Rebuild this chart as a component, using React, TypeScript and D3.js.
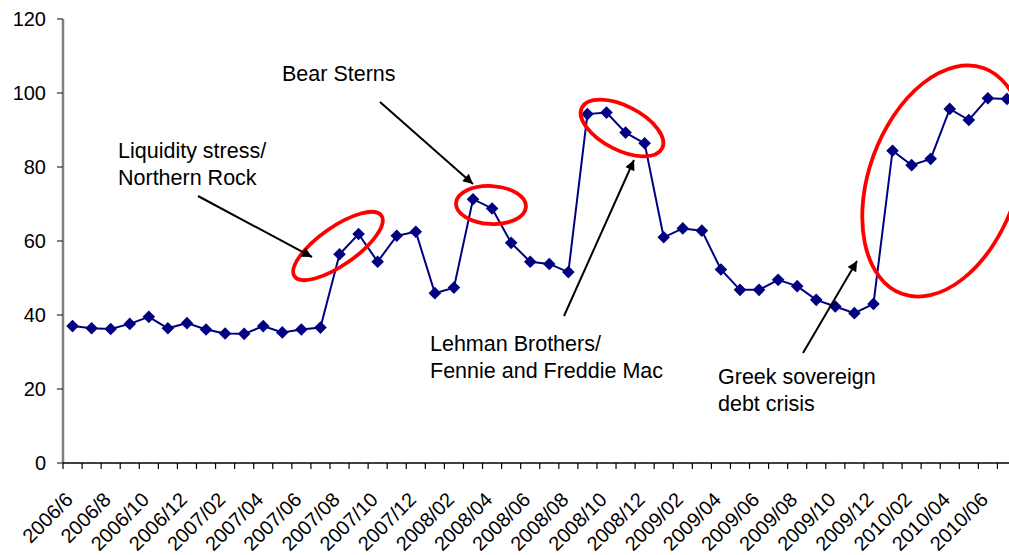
import React from "react";
import * as d3 from "d3";

const categories = [
  "2006/6","2006/7","2006/8","2006/9","2006/10","2006/11","2006/12",
  "2007/01","2007/02","2007/03","2007/04","2007/05","2007/06","2007/07","2007/08","2007/09","2007/10","2007/11","2007/12",
  "2008/01","2008/02","2008/03","2008/04","2008/05","2008/06","2008/07","2008/08","2008/09","2008/10","2008/11","2008/12",
  "2009/01","2009/02","2009/03","2009/04","2009/05","2009/06","2009/07","2009/08","2009/09","2009/10","2009/11","2009/12",
  "2010/01","2010/02","2010/03","2010/04","2010/05","2010/06","2010/07",
];
const values = [
  37.0, 36.4, 36.2, 37.6, 39.5, 36.4, 37.8,
  36.1, 35.0, 34.9, 37.0, 35.3, 36.1, 36.6, 56.4, 61.9, 54.4, 61.4, 62.5,
  45.9, 47.4, 71.3, 68.8, 59.5, 54.4, 53.8, 51.6, 94.3, 94.7, 89.3, 86.4,
  61.0, 63.4, 62.8, 52.3, 46.8, 46.8, 49.5, 47.8, 44.1, 42.3, 40.5, 43.0,
  84.4, 80.5, 82.2, 95.7, 92.7, 98.6, 98.4,
];
const tickLabels = [
  "2006/6","2006/8","2006/10","2006/12","2007/02","2007/04","2007/06","2007/08","2007/10","2007/12",
  "2008/02","2008/04","2008/06","2008/08","2008/10","2008/12","2009/02","2009/04","2009/06","2009/08",
  "2009/10","2009/12","2010/02","2010/04","2010/06",
];
const yTicks = [0, 20, 40, 60, 80, 100, 120];

const annotationTexts = [
  ["Liquidity stress/", "Northern Rock"],
  ["Bear Sterns"],
  ["Lehman Brothers/", "Fennie and Freddie Mac"],
  ["Greek sovereign", "debt crisis"],
];

const W = 1009;
const H = 555;
const left = 63;
const top = 19;
const bottom = 463;
const step = 19.07;

export default function App() {
  const x = d3
    .scaleBand<string>()
    .domain(categories)
    .range([left, left + step * categories.length])
    .paddingInner(0)
    .paddingOuter(0);
  const y = d3.scaleLinear().domain([0, 120]).range([bottom, top]);
  const cx = (c: string) => (x(c) as number) + x.bandwidth() / 2;
  const line = d3
    .line<number>()
    .x((_, i) => cx(categories[i]))
    .y((d) => y(d));

  const font = "Arial, 'Liberation Sans', sans-serif";
  const r = 6.3;
  const diamond = `M0,${-r}L${r},0L0,${r}L${-r},0Z`;

  const textPos = [
    { x: 118, y: 158 },
    { x: 282, y: 81 },
    { x: 430, y: 351 },
    { x: 718, y: 384 },
  ];
  const arrows = [
    { x1: 198, y1: 196, x2: 312, y2: 257 },
    { x1: 380, y1: 102, x2: 473, y2: 184 },
    { x1: 564, y1: 316, x2: 634, y2: 160 },
    { x1: 803, y1: 353, x2: 857, y2: 261 },
  ];
  const ellipses = [
    { cx: 338, cy: 246, rx: 53, ry: 19, a: -35 },
    { cx: 491, cy: 205, rx: 35, ry: 19, a: 3 },
    { cx: 622, cy: 128, rx: 45, ry: 22, a: 27 },
    { cx: 943, cy: 181, rx: 120, ry: 74, a: -70 },
  ];

  const labelIndex = (t: string) => {
    let idx = categories.indexOf(t);
    if (idx < 0) {
      const [yr, m] = t.split("/");
      idx = categories.indexOf(`${yr}/${String(parseInt(m, 10))}`);
    }
    return idx;
  };

  return (
    <svg
      width={W}
      height={H}
      style={{ position: "absolute", left: 0, top: 0, background: "#fff" }}
      fontFamily={font}
    >
      <defs>
        <marker
          id="arr"
          viewBox="0 0 10 10"
          refX="10"
          refY="5"
          markerWidth="6.5"
          markerHeight="5"
          markerUnits="strokeWidth"
          orient="auto"
        >
          <path d="M0,0 L10,5 L0,10 z" fill="#000" />
        </marker>
      </defs>
      <rect width={W} height={H} fill="#fff" />
      {/* y axis */}
      <line x1={left} x2={left} y1={top} y2={bottom} stroke="#808080" strokeWidth={2.5} />
      {yTicks.map((t) => (
        <g key={t}>
          <line x1={left - 6} x2={left} y1={y(t)} y2={y(t)} stroke="#333" strokeWidth={1.2} />
          <text x={46} y={y(t)} dy="0.35em" textAnchor="end" fontSize={20} fill="#000">
            {t}
          </text>
        </g>
      ))}
      {/* x axis */}
      <line x1={left} x2={W} y1={bottom} y2={bottom} stroke="#000" strokeWidth={1.5} />
      {categories.map((c) => (
        <line
          key={c}
          x1={x(c) as number}
          x2={x(c) as number}
          y1={bottom}
          y2={bottom + 6}
          stroke="#000"
          strokeWidth={1.2}
        />
      ))}
      {tickLabels.map((t) => {
        const idx = labelIndex(t);
        const px = cx(categories[idx]);
        return (
          <text
            key={t}
            transform={`translate(${px + 1.5},${501}) rotate(-45)`}
            textAnchor="end"
            fontSize={20}
            fill="#000"
          >
            {t}
          </text>
        );
      })}
      {/* series */}
      <path d={line(values) || ""} fill="none" stroke="#000080" strokeWidth={2} />
      {values.map((v, i) => (
        <path
          key={i}
          d={diamond}
          transform={`translate(${cx(categories[i])},${y(v)})`}
          fill="#000080"
        />
      ))}
      {/* ellipses */}
      {ellipses.map((e, i) => (
        <ellipse
          key={i}
          cx={e.cx}
          cy={e.cy}
          rx={e.rx}
          ry={e.ry}
          transform={`rotate(${e.a},${e.cx},${e.cy})`}
          fill="none"
          stroke="#ff0000"
          strokeWidth={3.8}
        />
      ))}
      {/* arrows */}
      {arrows.map((a, i) => (
        <line
          key={i}
          x1={a.x1}
          y1={a.y1}
          x2={a.x2}
          y2={a.y2}
          stroke="#000"
          strokeWidth={2}
          markerEnd="url(#arr)"
        />
      ))}
      {/* annotation texts */}
      {annotationTexts.map((lines, i) => (
        <text key={i} x={textPos[i].x} y={textPos[i].y} fontSize={21.5} fill="#000">
          {lines.map((l, j) => (
            <tspan key={j} x={textPos[i].x} dy={j === 0 ? 0 : 27}>
              {l}
            </tspan>
          ))}
        </text>
      ))}
    </svg>
  );
}
